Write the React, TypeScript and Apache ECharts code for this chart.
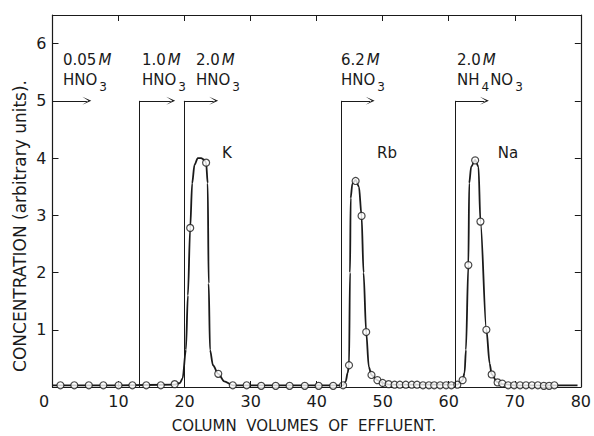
import React, { useEffect, useRef } from "react";
import * as echarts from "echarts";

// ---- data ----
const curveX = [0, 10, 18.5, 19.3, 19.7, 20.2, 20.5, 20.85, 21.15, 21.5, 22.0, 22.5, 23.0, 23.26, 23.5, 23.65, 23.85, 24.3, 25.1, 26.0, 27.3, 35, 44.0, 44.4, 44.7, 44.9, 45.05, 45.15, 45.4, 45.9, 46.4, 46.8, 47.1, 47.5, 47.9, 48.3, 49.2, 50.0, 51.0, 56, 61.3, 62.1, 62.4, 62.6, 62.97, 63.1, 63.4, 64.0, 64.5, 64.8, 65.7, 66.2, 66.5, 67.3, 68.1, 70, 79.5];
const curveY = [0.03, 0.03, 0.04, 0.07, 0.15, 0.65, 1.6, 2.78, 3.56, 3.88, 4.0, 4.0, 3.97, 3.92, 3.56, 1.81, 0.65, 0.38, 0.23, 0.1, 0.03, 0.03, 0.03, 0.1, 0.25, 0.38, 2.0, 3.3, 3.55, 3.62, 3.5, 2.99, 2.0, 0.96, 0.35, 0.21, 0.12, 0.07, 0.04, 0.04, 0.04, 0.12, 0.25, 0.65, 2.13, 3.56, 3.85, 3.97, 3.85, 2.89, 1.0, 0.41, 0.22, 0.09, 0.05, 0.03, 0.03];

const pointX = [1.2, 3.3, 5.5, 7.7, 10.0, 12.1, 14.2, 16.4, 18.5, 20.85, 23.26, 25.1, 27.3, 29.4, 31.6, 33.8, 35.9, 38.2, 40.3, 42.5, 44.0, 44.9, 45.9, 46.8, 47.5, 48.3, 49.2, 50.0, 50.9, 51.8, 52.6, 53.5, 54.4, 55.2, 56.1, 57.0, 57.8, 58.7, 59.6, 60.4, 61.3, 62.1, 62.97, 64.0, 64.8, 65.7, 66.5, 67.4, 68.1, 69.0, 69.9, 70.8, 71.7, 72.6, 73.5, 74.4, 75.2, 76.0];
const pointY = [0.03, 0.03, 0.03, 0.03, 0.03, 0.03, 0.03, 0.03, 0.05, 2.78, 3.92, 0.23, 0.03, 0.03, 0.02, 0.02, 0.02, 0.02, 0.02, 0.02, 0.03, 0.38, 3.6, 2.99, 0.96, 0.21, 0.12, 0.07, 0.05, 0.04, 0.04, 0.04, 0.04, 0.04, 0.03, 0.03, 0.03, 0.03, 0.03, 0.03, 0.04, 0.12, 2.13, 3.96, 2.89, 1.0, 0.22, 0.08, 0.06, 0.03, 0.03, 0.03, 0.03, 0.03, 0.03, 0.02, 0.02, 0.03];

// eluent changes: vertical line at switchX up to arrowY, arrow to arrowEndX
const switchX = [0, 13.2, 19.9, 43.7, 61.0];
const arrowEndX = [5.2, 17.9, 24.4, 48.1, 65.4];
const arrowY = 5;

const xTicks = [0, 10, 20, 30, 40, 50, 60, 70, 80];
const yTicks = [1, 2, 3, 4, 5, 6];

const peakNames = ["K", "Rb", "Na"];
const eluentConc = ["0.05", "1.0", "2.0", "6.2", "2.0"];
const eluentSalt = [["HNO", "3"], ["HNO", "3"], ["HNO", "3"], ["HNO", "3"], ["NH", "4", "NO", "3"]];

const FONT = "DejaVu Sans";
const INK = "#1a1a1a";

export default function App() {
  const ref = useRef<HTMLDivElement>(null);
  useEffect(() => {
    document.body.style.margin = "0";
    const chart = echarts.init(ref.current!, null, { renderer: "svg" });
    const ctx = document.createElement("canvas").getContext("2d")!;
    const measure = (t: string, font: string) => {
      ctx.font = font;
      return ctx.measureText(t).width;
    };

    const markData: any[] = [];
    switchX.forEach((sx, i) => {
      if (sx > 0) {
        markData.push([
          { coord: [sx, 0], symbol: "none" },
          { coord: [sx, arrowY], symbol: "none" },
        ]);
      }
      markData.push([
        { coord: [sx, arrowY], symbol: "none" },
        { coord: [arrowEndX[i], arrowY], symbol: "path://M0,10 L5,0 L10,10 L5,3.2 Z", symbolSize: [8, 9] },
      ]);
    });

    const MAIN = `15px "${FONT}"`;
    const SUB = `12px "${FONT}"`;
    const txt = (x: number, y: number, t: string, font: string, align = "left") => ({
      type: "text",
      x,
      y,
      silent: true,
      style: { text: t, font, fill: INK, textAlign: align, textVerticalAlign: "middle" },
    });

    const concX = [63, 142, 196, 341, 457];
    const graphics: any[] = [];
    eluentConc.forEach((c, i) => {
      const x0 = concX[i];
      graphics.push(txt(x0, 60, c, MAIN));
      graphics.push(txt(x0 + measure(c, MAIN) + 2, 60, "M", `italic ${MAIN}`));
      let x = x0;
      eluentSalt[i].forEach((part, j) => {
        const isSub = j % 2 === 1;
        const f = isSub ? SUB : MAIN;
        graphics.push(txt(x + (isSub ? 1 : 0), isSub ? 87 : 80, part, f));
        x += measure(part, f) + (isSub ? 2 : 1);
      });
    });

    const peakPos = [[227, 153], [387, 153], [508, 153]];
    peakNames.forEach((p, i) => graphics.push(txt(peakPos[i][0], peakPos[i][1], p, MAIN, "center")));

    graphics.push({
      type: "text",
      x: 20,
      y: 226,
      rotation: Math.PI / 2,
      silent: true,
      style: {
        text: "CONCENTRATION (arbitrary units).",
        font: `17px "${FONT}"`,
        fill: INK,
        textAlign: "center",
        textVerticalAlign: "middle",
      },
    });
    graphics.push({
      type: "text",
      x: 304,
      y: 426,
      silent: true,
      style: {
        text: "COLUMN  VOLUMES  OF  EFFLUENT.",
        font: `15px "${FONT}"`,
        fill: INK,
        textAlign: "center",
        textVerticalAlign: "middle",
      },
    });

    const axisCommon = {
      axisLine: { show: true, onZero: false, lineStyle: { color: INK, width: 1.2 } },
      axisTick: { show: true, inside: true, length: 6, lineStyle: { color: INK, width: 1 } },
      splitLine: { show: false },
    };

    chart.setOption({
      animation: false,
      backgroundColor: "#ffffff",
      grid: { left: 52.5, right: 11, top: 15, bottom: 49, containLabel: false },
      xAxis: [
        {
          type: "value",
          min: 0,
          max: 80,
          interval: 10,
          ...axisCommon,
          axisLabel: {
            color: INK,
            fontFamily: FONT,
            fontSize: 16,
            margin: 6,
            formatter: (v: number) => (v === 0 ? "{z|0}" : xTicks.includes(v) ? String(v) : ""),
            rich: { z: { fontFamily: FONT, fontSize: 16, color: INK, padding: [0, 17, 0, 0] } },
          },
        },
        {
          type: "value",
          position: "top",
          min: 0,
          max: 80,
          interval: 10,
          ...axisCommon,
          axisLabel: { show: false },
        },
      ],
      yAxis: [
        {
          type: "value",
          min: 0,
          max: 6.5,
          interval: 1,
          ...axisCommon,
          axisLabel: {
            color: INK,
            fontFamily: FONT,
            fontSize: 16,
            margin: 6,
            formatter: (v: number) => (yTicks.includes(v) ? String(v) : ""),
          },
        },
        {
          type: "value",
          position: "right",
          min: 0,
          max: 6.5,
          interval: 1,
          ...axisCommon,
          axisLabel: { show: false },
        },
      ],
      graphic: graphics,
      series: [
        {
          type: "line",
          data: curveX.map((x, i) => [x, curveY[i]]),
          showSymbol: false,
          symbol: "none",
          smooth: 0.3,
          smoothMonotone: "x",
          lineStyle: { color: INK, width: 1.8 },
          silent: true,
          z: 2,
          markLine: {
            silent: true,
            animation: false,
            label: { show: false },
            lineStyle: { color: INK, width: 1, type: "solid" },
            emphasis: { disabled: true },
            data: markData,
          },
        },
        {
          type: "scatter",
          data: pointX.map((x, i) => [x, pointY[i]]),
          symbol: "circle",
          symbolSize: 7,
          itemStyle: { color: "#ffffff", borderColor: INK, borderWidth: 1.2 },
          silent: true,
          z: 3,
        },
      ],
    });
    return () => chart.dispose();
  }, []);
  return <div ref={ref} style={{ width: 594, height: 436 }} />;
}
